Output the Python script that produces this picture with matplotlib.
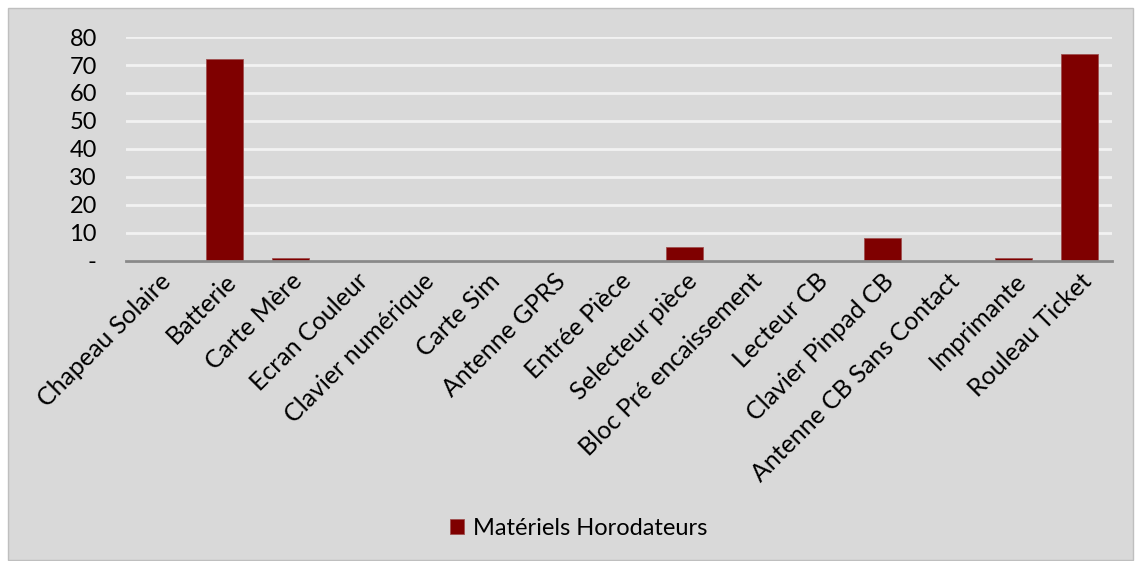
import numpy as np
import matplotlib.pyplot as plt
from matplotlib.patches import Rectangle

categories = ["Chapeau Solaire", "Batterie", "Carte Mère", "Ecran Couleur",
              "Clavier numérique", "Carte Sim", "Antenne GPRS", "Entrée Pièce",
              "Selecteur pièce", "Bloc Pré encaissement", "Lecteur CB",
              "Clavier Pinpad CB", "Antenne CB Sans Contact", "Imprimante",
              "Rouleau Ticket"]
values = [0, 72, 1, 0, 0, 0, 0, 0, 5, 0, 0, 8, 0, 1, 74]
series_name = "Matériels Horodateurs"
yticks = [0, 10, 20, 30, 40, 50, 60, 70, 80]
ytick_labels = ["-", "10", "20", "30", "40", "50", "60", "70", "80"]

plt.rcParams['font.family'] = ['Lato', 'DejaVu Sans']

fig = plt.figure(figsize=(11.35, 5.61), dpi=100)
fig.patch.set_facecolor('white')
# gray chart box with thin border, drawn behind the axes
fig.patches.append(Rectangle((8/1135, 1/561), 1125/1135, 552/561, transform=fig.transFigure,
                             facecolor='#D9D9D9', edgecolor='#BFBFBF', linewidth=1, zorder=-10))

ax = fig.add_axes([0.111, 0.535, 0.869, 0.399])
ax.set_facecolor('#D9D9D9')
x = np.arange(len(categories))
ax.bar(x, values, width=0.56, color='#7F0000', edgecolor='#A05050', linewidth=0.6,
       label=series_name, zorder=3)

ax.set_xlim(-0.5, len(categories) - 0.5)
ax.set_ylim(0, 80)
ax.set_yticks(yticks)
ax.set_yticklabels(ytick_labels, fontsize=17)
ax.set_xticks(x)
ax.set_xticklabels(categories, rotation=45, ha='right', rotation_mode='anchor', fontsize=18)
ax.tick_params(axis='both', length=0, pad=6)
ax.tick_params(axis='y', pad=21)
ax.grid(axis='y', color='#F2F2F2', linewidth=2, zorder=1)
for s in ['top', 'right', 'left']:
    ax.spines[s].set_visible(False)
ax.spines['bottom'].set_color('#898989')
ax.spines['bottom'].set_linewidth(2)
ax.spines['bottom'].set_zorder(4)

fig.legend(loc='center', bbox_to_anchor=(0.51, 0.058), frameon=False, fontsize=17,
           handlelength=0.6, handleheight=0.6, handletextpad=0.4)

fig.savefig('out.png', dpi=100, facecolor=fig.get_facecolor())
